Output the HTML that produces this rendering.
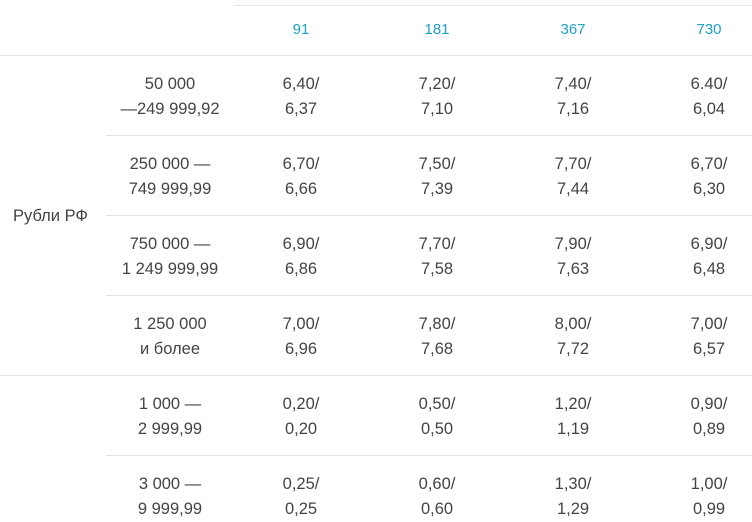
<!DOCTYPE html>
<html><head><meta charset="utf-8"><style>
body{margin:0;width:752px;height:514px;overflow:hidden;background:#fff;font-family:"Liberation Sans",sans-serif;color:#444;position:relative}
.l{position:absolute;height:1px;background:#e6e6e6}
.c{position:absolute;width:130px;margin-left:-65px;text-align:center;font-size:16.5px;line-height:25px}
.h{position:absolute;width:80px;margin-left:-40px;text-align:center;font-size:15px;color:#1ea2c2;top:21px}
</style></head><body>
<div class="l" style="left:234px;top:5px;width:518px"></div>
<div class="l" style="left:0;top:55px;width:752px"></div>
<div class="h" style="left:301px">91</div>
<div class="h" style="left:437px">181</div>
<div class="h" style="left:573px">367</div>
<div class="h" style="left:709px">730</div>
<div class="c" style="left:65px;margin-left:-52px;text-align:left;top:204px">Рубли РФ</div>
<div id="rows"></div>
<script>
const ranges=[["50 000","—249 999,92"],["250 000 —","749 999,99"],["750 000 —","1 249 999,99"],["1 250 000","и более"],["1 000 —","2 999,99"],["3 000 —","9 999,99"]];
const vals=[["6,40/","6,37","7,20/","7,10","7,40/","7,16","6.40/","6,04"],
["6,70/","6,66","7,50/","7,39","7,70/","7,44","6,70/","6,30"],
["6,90/","6,86","7,70/","7,58","7,90/","7,63","6,90/","6,48"],
["7,00/","6,96","7,80/","7,68","8,00/","7,72","7,00/","6,57"],
["0,20/","0,20","0,50/","0,50","1,20/","1,19","0,90/","0,89"],
["0,25/","0,25","0,60/","0,60","1,30/","1,29","1,00/","0,99"]];
const cx=[301,437,573,709];
const root=document.getElementById('rows');
ranges.forEach((r,i)=>{
  const top=55+80*i;
  if(i>0){const ln=document.createElement('div');ln.className='l';
    
    
    const full=(i===4);ln.style.left=(full?0:106)+'px';ln.style.width=(full?752:646)+'px';ln.style.top=top+'px';root.appendChild(ln);}
  const d=document.createElement('div');d.className='c';
  
  
  d.style.left='170px';d.style.top=(top+17)+'px';d.innerHTML=r[0]+'<br>'+r[1];root.appendChild(d);
  for(let j=0;j<4;j++){const e=document.createElement('div');e.className='c';
    
    
    e.style.left=cx[j]+'px';e.style.top=(top+17)+'px';e.innerHTML=vals[i][2*j]+'<br>'+vals[i][2*j+1];root.appendChild(e);}
});
</script>
</body></html>
